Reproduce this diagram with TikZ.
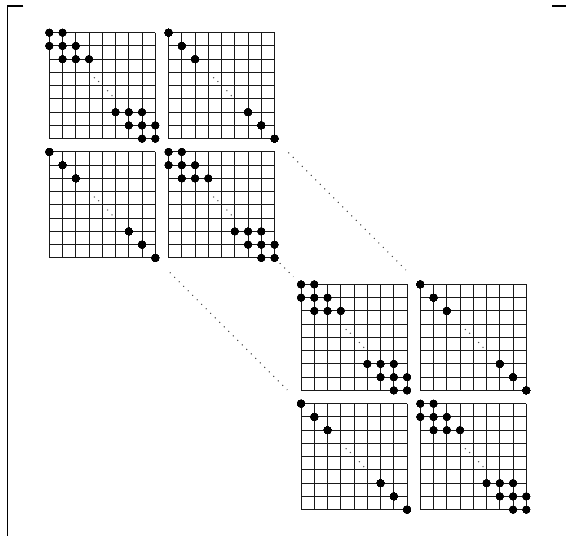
\documentclass[tikz,border=0pt]{standalone}
\tikzset{
  gridline/.style={line width=1pt, black!90},
  entry/.style={fill=black},
  bracketline/.style={line width=1.1pt, black, line join=miter},
  dotconn/.style={line width=1pt, black!75, dash pattern=on 1pt off 5.37pt},
  smalldot/.style={fill=black!70},
}
\newcommand{\mygrid}[2]{%
  \foreach \k in {0,...,8}{
    \draw[gridline] (#1+\k,#2) -- (#1+\k,#2+8);
    \draw[gridline] (#1,#2+\k) -- (#1+8,#2+\k);
  }
  \foreach \p/\q in {3.4/3.4,3.72/3.68,4.4/4.38,4.73/4.75}
    \fill[smalldot] (#1+\p,#2+\q) circle (0.7pt);
}
\newcommand{\banddots}[2]{%
  \foreach \p/\q in {0/0,1/0,0/1,1/1,2/1,1/2,2/2,3/2,5/6,6/6,7/6,6/7,7/7,8/7,7/8,8/8}
    \fill[entry] (#1+\p,#2+\q) circle (3.8pt);
}
\newcommand{\diagdots}[2]{%
  \foreach \p in {0,1,2,6,7,8}
    \fill[entry] (#1+\p,#2+\p) circle (3.8pt);
}
\begin{document}
\begin{tikzpicture}[x=13.25pt,y=-13.25pt]
\useasboundingbox (-3.7208,-2.4679) rectangle (38.996,37.909);
\clip (-3.7208,-2.4679) rectangle (38.996,37.909);
% large bracket
\draw[bracketline] (-1.962,-2.015) -- (-3.170,-2.015) -- (-3.170,38.2);
\draw[bracketline] (37.96,-2.015) -- (39.2,-2.015);
% grids
\foreach \gx/\gy in {0/0,9/0,0/9,9/9,19/19,28/19,19/28,28/28}
  \mygrid{\gx}{\gy}
% entries
\foreach \gx/\gy in {0/0,9/9,19/19,28/28}
  \banddots{\gx}{\gy}
\foreach \gx/\gy in {9/0,0/9,28/19,19/28}
  \diagdots{\gx}{\gy}
% connectors
\coordinate (tTRbr) at (17,8);
\coordinate (bTRtl) at (28,19);
\coordinate (tBLbr) at (8,17);
\coordinate (bBLtl) at (19,28);
\coordinate (tBRbr) at (17,17);
\coordinate (bTLtl) at (19,19);
\draw[dotconn, shorten <=19.5pt, shorten >=20.5pt] (tTRbr) -- (bTRtl);
\draw[dotconn, shorten <=20.5pt, shorten >=19.5pt] (tBLbr) -- (bBLtl);
\draw[dotconn, shorten <=7.3pt, shorten >=10.8pt] (tBRbr) -- (bTLtl);
\end{tikzpicture}
\end{document}
